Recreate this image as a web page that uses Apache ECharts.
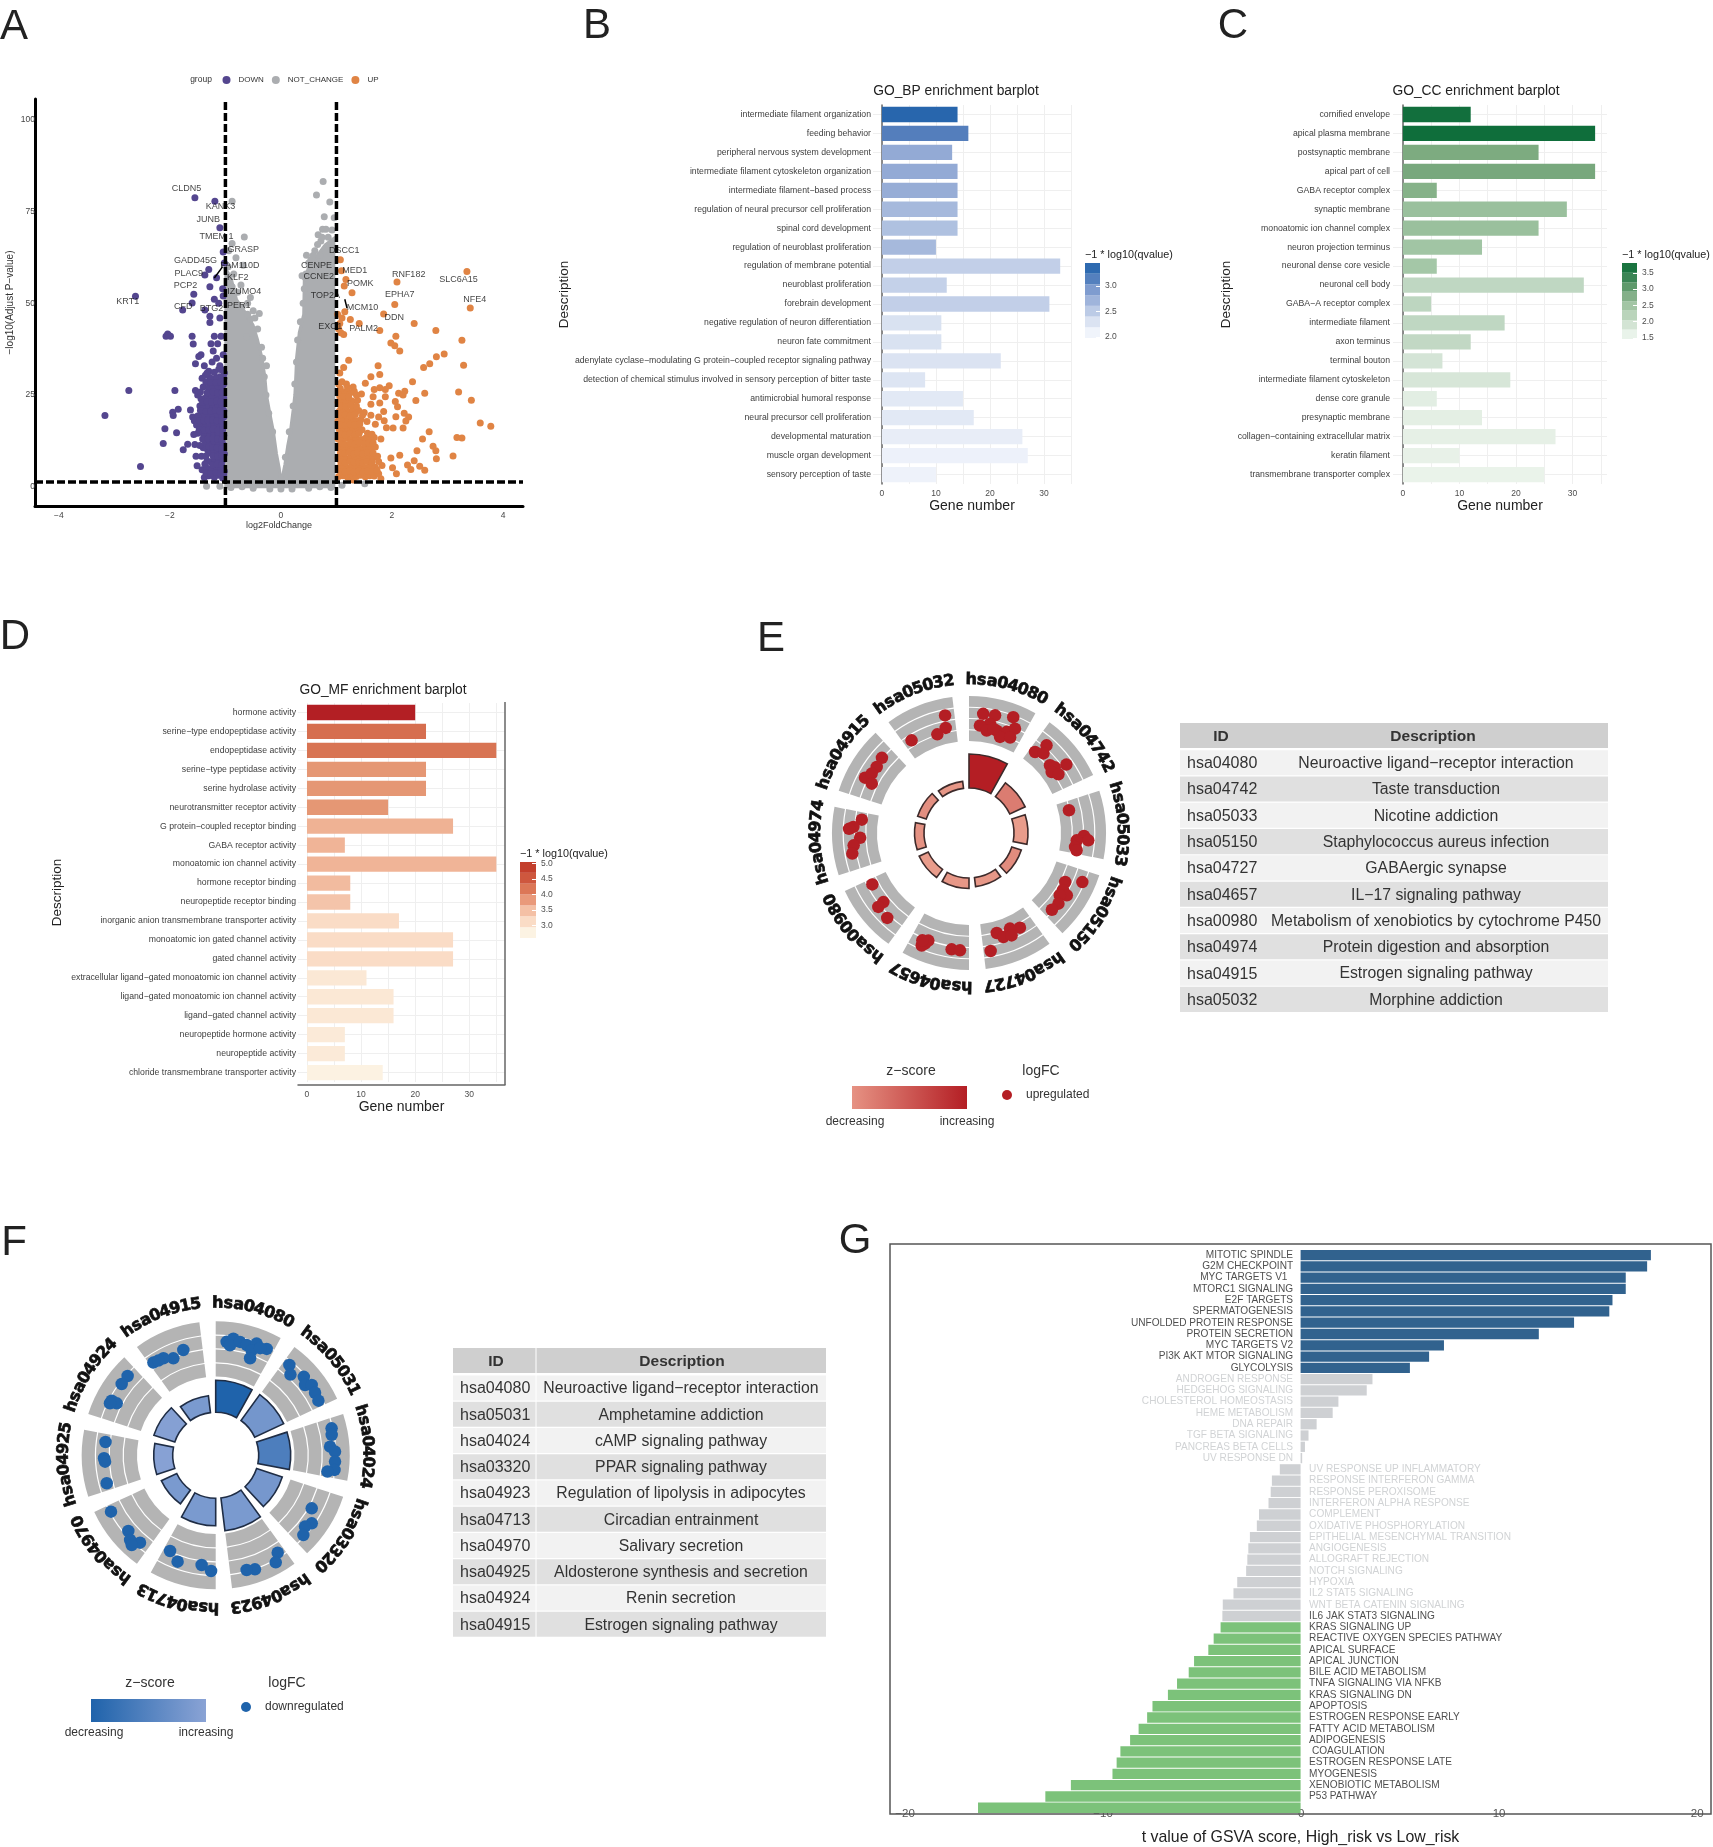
<!DOCTYPE html>
<html>
<head>
	<meta charset="utf-8">
	<title>Enrichment figure</title>
	<style>body{margin:0;background:#fff}</style>
</head>
<body>
<div id="container" style="width: 1713px;height: 1847px;"></div>
<script src="https://cdn.jsdelivr.net/npm/echarts@6/dist/echarts.min.js"></script>
<script type="text/javascript">
// ---------- A: volcano, values [log2FC, -log10 p]
var volcanoEnvelope = [[-1.02,60],[-0.9,57],[-0.8,51],[-0.62,47],[-0.5,44],[-0.42,40],[-0.34,35],[-0.29,30],[-0.26,25],[-0.2,20],[-0.135,15],[-0.08,9],[-0.03,5],[0,1.2],[0.03,3],[0.07,6],[0.12,11],[0.17,15],[0.22,21],[0.25,25],[0.27,31],[0.28,35],[0.33,42],[0.41,47],[0.42,56],[0.5,60],[0.6,62],[0.8,66],[0.98,68]];
var notChangePoints = [[-0.88,77.8],[-0.66,68.1],[-0.88,66.3],[-0.94,64.3],[-0.81,62.4],[-0.68,60.4],[-0.88,54.5],[-0.55,51.6],[-0.39,47.2],[-0.55,45.7],[-0.62,40.9],[-0.33,35],[-0.26,33],[-0.72,55],[-0.6,50],[-0.95,60],[0.76,83.2],[0.64,79.5],[0.88,77.6],[0.78,73.6],[0.96,73.3],[0.75,70.2],[0.81,70.2],[0.67,68.7],[0.72,67],[0.61,64.3],[0.46,63.1],[0.54,61.9],[0.38,57.5],[0.44,57],[0.93,65.3],[0.7,63],[0.56,59],[-1.34,0.1],[-1.1,0.1],[1.51,0.8],[1.1,0.4],[-0.9,-0.2],[0.9,-0.2],[-0.5,-0.4],[0.5,-0.4],[-0.2,-0.6],[0.2,-0.6],[0,-0.6],[0.7,0],[-0.7,0],
[-0.42,43],[-0.47,46],[-0.35,38],[-0.3,30],[-0.27,25],[-0.22,20],[-0.15,15],[-0.5,48],[-0.6,47],[-0.7,49],[-0.78,53],[-0.85,58],[0.08,8],[0.15,15],[0.22,22],[0.25,28],[0.28,34],[0.3,40],[0.35,45],[0.4,50],[0.42,54],[0.45,58],[0.5,61],[0.58,63],[0.66,66],[0.74,68],[0.85,68],[0.92,70]];
var downPoints = [[-1.55,78.8],[-1.19,77.8],[-1.1,70.6],[-2.62,51.9],[-1.3,59.2],[-1.37,57.7],[-1.16,57],[-1.28,54.5],[-1.57,52.5],[-1.6,50.1],[-1.77,48.2],[-1.37,48.2],[-1.2,51.1],[-1.12,50],[-1.28,46.5],[-1.28,44.8],[-1.1,46],[-1.04,64],[-1.02,61],[-1.05,54],[-1.04,52],[-2.04,41.6],[-2.07,41],[-1.99,41],[-2.02,41.2],[-1.6,41],[-1.58,38.9],[-1.2,41],[-1.26,39],[-1.22,37],[-1.14,39],[-1.08,41],[-1.44,36],[-1.48,35.5],[-1.54,33.5],[-1.38,33],[-1.3,31.5],[-1.24,34],[-1.16,35],[-1.1,33],[-1.04,36],[-2.74,26.2],[-1.91,26.2],[-1.54,26.2],[-3.17,19.4],[-2.53,5.5],[-1.85,21.1],[-1.95,20.3],[-1.94,19.4],[-1.63,20.9],[-1.59,19],[-2.09,15.8],[-1.88,14.7],[-2.12,11.8],[-1.76,10.1],[-1.55,11.5],[-1.68,11.6],[-1.53,8.3],[-1.43,8.3],[-1.51,5.7],[-1.33,7],
[-1.38,2.5],[-1.3,3],[-1.2,2.6],[-1.12,3.1],[-1.05,2.4],[-1.42,4.6],[-1.33,5],[-1.25,4.5],[-1.16,5.2],[-1.08,4.8],[-1.02,4.2],[-1.27,6.8],[-1.2,7.5],[-1.12,6.9],[-1.05,7.3],[-1.02,9],[-1.1,9.4],[-1.18,9.6],[-1.26,9.2],[-1.32,10],[-1.4,10.6],[-1.46,11.2],[-1.36,12],[-1.28,11.8],[-1.2,12.1],[-1.12,11.7],[-1.04,11.5],[-1.03,14],[-1.1,14.2],[-1.17,14.5],[-1.25,14.3],[-1.33,14.1],[-1.4,14.6],[-1.5,14.6],[-1.57,14.2],[-1.52,16.8],[-1.44,16.9],[-1.36,16.5],[-1.28,16.7],[-1.21,17],[-1.13,16.6],[-1.05,16.9],[-1.03,19],[-1.1,19.2],[-1.18,19.4],[-1.26,19.1],[-1.34,19.3],[-1.42,19.6],[-1.5,19.3],[-1.56,18],[-1.46,22],[-1.38,21.8],[-1.3,22],[-1.22,21.7],[-1.14,22.2],[-1.06,21.8],[-1.03,24.2],[-1.1,24.5],[-1.18,24.2],[-1.26,24.6],[-1.36,24.2],[-1.44,24],[-1.5,25],[-1.4,27.2],[-1.3,27],[-1.22,27.3],[-1.14,27],[-1.06,27.2],[-1.03,29.6],[-1.1,30],[-1.18,29.6],[-1.28,29.8],[-1.36,30.4],[-1.42,29.6],[-1.06,31.8],[-1.12,32],
[-1.35,3.8],[-1.27,3.6],[-1.17,3.9],[-1.09,3.7],[-1.03,3.2],[-1.37,6.2],[-1.23,6],[-1.15,6.2],[-1.07,6],[-1.35,8.4],[-1.22,8.4],[-1.14,8.3],[-1.06,8.5],[-1.3,10.9],[-1.23,10.7],[-1.15,10.6],[-1.07,10.4],[-1.41,13],[-1.31,13.1],[-1.22,13.2],[-1.14,13],[-1.06,12.8],[-1.47,15.6],[-1.38,15.4],[-1.3,15.5],[-1.22,15.7],[-1.13,15.4],[-1.05,15.5],[-1.47,18],[-1.39,18],[-1.31,18.1],[-1.23,18.2],[-1.15,18],[-1.07,18],[-1.45,20.8],[-1.35,20.5],[-1.26,20.6],[-1.18,20.8],[-1.1,20.6],[-1.03,20.7],[-1.41,23],[-1.33,23.2],[-1.25,23],[-1.16,23.3],[-1.08,23.1],[-1.45,25.8],[-1.33,25.6],[-1.22,25.8],[-1.14,25.6],[-1.06,25.8],[-1.35,28.5],[-1.26,28.4],[-1.17,28.4],[-1.09,28.6],[-1.03,28],[-1.33,31],[-1.2,31.2],[-1.02,31]];
var upPoints = [[1.07,61.9],[1.09,58.9],[1.17,56.5],[1.14,54.7],[1.28,52.9],[2.09,55.8],[3.35,58.7],[3.41,48.7],[2.05,49.7],[1.85,47.1],[2.4,44.5],[2.79,42.6],[1.41,44.5],[1.25,45.6],[1.15,47.7],[1.1,46],[1.06,44.5],[1.04,43],[1.08,42],[1.13,41.5],[1.02,47],[1.78,42.6],[2.07,41],[1.98,39.2],[2.05,38.4],[2.14,37],[3.26,39.9],[2.94,36.2],[2.8,35.4],[2.68,33.5],[2.57,32.5],[3.29,33.1],[1.22,34.5],[1.13,32.5],[1.06,31],[1.75,33],[1.78,30.6],[1.62,30],[1.52,28.2],[2.37,28.6],[2.59,25.5],[3.2,25.8],[3.43,23.6],[2.43,23.5],[3.59,17.4],[3.78,16.5],[3.17,13.4],[3.26,13.3],[2.67,15],[2.55,13],[2.45,9.8],[2.74,11],[2.79,9.8],[2.8,7.6],[3.1,8.4],[2.2,16],[2.4,7.1],[2.28,5.9],[2.34,4.7],[2.5,5.6],[2.59,4.5],[2.14,8.6],[1.98,7.8],[2.01,5.2],[2.08,3.5],[1.8,2.2],[1.3,1.8],
[2.02,16],[1.9,16.1],[2.07,19.1],[2.1,21.8],[2.06,23.2],[2.22,20],[2.3,19],[2.25,17.9],[2.12,25.5],[2.2,25],[2.23,26],[1.95,27.5],[1.88,26.5],[1.88,24.5],[1.78,27],[1.68,26.5],[1.66,24.5],[1.62,22.5],[1.78,22.8],[1.85,20.5],[1.76,19],[1.86,18],[1.7,17],[1.62,19.5],[1.55,17.8],
[1.04,2.8],[1.12,3],[1.2,2.6],[1.28,3.2],[1.36,2.8],[1.44,3.1],[1.52,2.7],[1.6,3],[1.68,2.9],[1.76,3.5],[1.04,5.2],[1.12,5.5],[1.2,5.1],[1.28,5.6],[1.36,5.2],[1.44,5.5],[1.52,5.2],[1.6,5.6],[1.7,5.3],[1.82,5.8],[1.03,7.8],[1.1,8],[1.18,7.6],[1.26,8.1],[1.34,7.8],[1.42,8],[1.5,7.7],[1.58,8.2],[1.66,7.9],[1.74,8.3],[1.05,10.4],[1.13,10.2],[1.22,10.6],[1.3,10.3],[1.38,10.7],[1.46,10.3],[1.54,10.6],[1.62,10.4],[1.7,10.8],[1.03,13],[1.11,12.8],[1.19,13.2],[1.27,12.9],[1.35,13.3],[1.44,12.9],[1.52,13.2],[1.6,13],[1.68,13.4],[1.8,13],[1.05,15.6],[1.13,15.4],[1.21,15.8],[1.3,15.5],[1.38,15.9],[1.46,15.5],[1.03,18],[1.11,18.2],[1.2,18],[1.28,18.4],[1.36,18],[1.44,18.3],[1.05,20.6],[1.13,20.8],[1.22,20.5],[1.3,21],[1.4,20.8],[1.5,20.2],[1.03,23],[1.1,23.4],[1.18,23],[1.28,23.4],[1.38,23.6],[1.45,25.3],[1.08,25.6],[1.16,25.8],[1.25,25.6],[1.32,26],[1.04,28],[1.1,28.6],[1.18,28],[1.3,27.2],
[1.08,4.1],[1.16,4],[1.24,4.3],[1.32,4],[1.4,4.3],[1.48,4],[1.56,4.2],[1.64,4.1],[1.73,4.5],[1.08,6.7],[1.16,6.5],[1.24,6.9],[1.32,6.6],[1.4,6.8],[1.47,6.5],[1.55,6.9],[1.64,6.7],[1.76,6.9],[1.07,9.2],[1.15,9.1],[1.23,9.4],[1.31,9],[1.39,9.3],[1.47,9],[1.56,9.3],[1.66,9.2],[1.08,11.8],[1.16,11.5],[1.25,11.9],[1.33,11.6],[1.41,12],[1.5,11.7],[1.58,11.9],[1.66,11.9],[1.08,14.4],[1.16,14.1],[1.24,14.5],[1.33,14.2],[1.41,14.6],[1.56,14.6],[1.64,14.3],[1.08,16.9],[1.16,16.7],[1.25,17],[1.33,16.8],[1.42,17.1],[1.08,19.4],[1.16,19.6],[1.25,19.3],[1.34,19.7],[1.47,19.5],[1.08,22],[1.17,21.8],[1.26,22.2],[1.36,22],[1.06,24.5],[1.14,24.6],[1.22,24.4],[1.36,25],[1.07,26.8],[1.2,27]];
var geneNames = ['CLDN5','KANK3','JUNB','TMEM 1','GRASP','GADD45G','FAM110D','PLAC9','KLF2','PCP2','IZUMO4','KRT1','CFD','BTG2','PER1','DSCC1','CENPE','MED1','CCNE2','POMK','RNF182','SLC6A15','TOP2A','EPHA7','NFE4','MCM10','DDN','EXO1','PALM2'];
var genePlaces = [[-1.70,81.2],[-1.09,76.3],[-1.31,72.9],[-1.16,68.1],[-0.68,64.8],[-1.54,61.7],[-0.74,60.2],[-1.66,58.2],[-0.78,56.9],[-1.72,54.8],[-0.66,53.1],[-2.76,50.5],[-1.76,49],[-1.25,48.5],[-0.76,49.4],[1.14,64.3],[0.64,60.2],[1.33,58.9],[0.68,57.3],[1.43,55.3],[2.3,57.8],[3.2,56.5],[0.8,52.1],[2.14,52.3],[3.49,51],[1.47,48.8],[2.04,46],[0.89,43.6],[1.49,43.1]];

// ---------- B / C / D: GO barplots
var bpNames = ['intermediate filament organization','feeding behavior','peripheral nervous system development','intermediate filament cytoskeleton organization','intermediate filament\u2212based process','regulation of neural precursor cell proliferation','spinal cord development','regulation of neuroblast proliferation','regulation of membrane potential','neuroblast proliferation','forebrain development','negative regulation of neuron differentiation','neuron fate commitment','adenylate cyclase\u2212modulating G protein\u2212coupled receptor signaling pathway','detection of chemical stimulus involved in sensory perception of bitter taste','antimicrobial humoral response','neural precursor cell proliferation','developmental maturation','muscle organ development','sensory perception of taste'];
var bpCounts = [14,16,13,14,14,14,14,10,33,12,31,11,11,22,8,15,17,26,27,10];
var bpQ = [3.42,3.15,2.7,2.7,2.68,2.6,2.55,2.6,2.42,2.4,2.42,2.22,2.22,2.2,2.18,2.13,2.13,2.08,2.03,2.02];
var ccNames = ['cornified envelope','apical plasma membrane','postsynaptic membrane','apical part of cell','GABA receptor complex','synaptic membrane','monoatomic ion channel complex','neuron projection terminus','neuronal dense core vesicle','neuronal cell body','GABA\u2212A receptor complex','intermediate filament','axon terminus','terminal bouton','intermediate filament cytoskeleton','dense core granule','presynaptic membrane','collagen\u2212containing extracellular matrix','keratin filament','transmembrane transporter complex'];
var ccCounts = [12,34,24,34,6,29,24,14,6,32,5,18,12,7,19,6,14,27,10,25];
var ccQ = [3.72,3.75,2.65,2.7,2.55,2.35,2.35,2.28,2.25,2.0,2.02,2.0,1.98,1.78,1.75,1.6,1.58,1.55,1.53,1.5];
var mfNames = ['hormone activity','serine\u2212type endopeptidase activity','endopeptidase activity','serine\u2212type peptidase activity','serine hydrolase activity','neurotransmitter receptor activity','G protein\u2212coupled receptor binding','GABA receptor activity','monoatomic ion channel activity','hormone receptor binding','neuropeptide receptor binding','inorganic anion transmembrane transporter activity','monoatomic ion gated channel activity','gated channel activity','extracellular ligand\u2212gated monoatomic ion channel activity','ligand\u2212gated monoatomic ion channel activity','ligand\u2212gated channel activity','neuropeptide hormone activity','neuropeptide activity','chloride transmembrane transporter activity'];
var mfCounts = [20,22,35,22,22,15,27,7,35,8,8,17,27,27,11,16,16,7,7,14];
var mfQ = [5.0,4.15,4.1,3.75,3.75,3.75,3.45,3.42,3.42,3.35,3.25,3.0,3.0,3.0,2.8,2.8,2.8,2.75,2.75,2.62];

// ---------- E / F: circles, dots are [radial position, angle]
var upIds = ['hsa04080','hsa04742','hsa05033','hsa05150','hsa04727','hsa04657','hsa00980','hsa04974','hsa04915','hsa05032'];
var upDescriptions = ['Neuroactive ligand\u2212receptor interaction','Taste transduction','Nicotine addiction','Staphylococcus aureus infection','GABAergic synapse','IL\u221217 signaling pathway','Metabolism of xenobiotics by cytochrome P450','Protein digestion and absorption','Estrogen signaling pathway','Morphine addiction'];
var upCounts = [79,62,59,55,54,55.5,55,54.5,54,52];
var upZ = [1,0.42,0.22,0.32,0.25,0.25,0.22,0.28,0.3,0.25];
var upDots = [[120,6.8],[120.5,12.5],[124,20.9],[111,10.9],[108,5.8],[104,9.8],[106,15.1],[108,20.5],[114,23.8],[101,17.9],[104,23.3],[107,13.1],
[104.5,39.2],[117,41.5],[109,43.1],[105.6,50.1],[108,52.5],[102.7,53.6],[107,56.7],[119,54.9],
[102.5,77.2],[115,91.5],[108,93.9],[119.5,93.5],[107,97.5],[109,99.1],
[123.5,113.4],[108,117],[110,121.3],[116,122.5],[110,124.4],[114,128.3],[113,132.8],
[107.5,151.7],[104,156.8],[103.8,164.5],[109.5,161.7],[110.9,157.4],[120,169.6],
[119,201.7],[122,202.8],[115,200.7],[117,203.5],[117.6,188.5],[117.7,184.4],
[109.5,242],[110,231.1],[117,230.8],[117.9,223.9],
[108,277.1],[115.8,273],[120,272],[109,267.5],[116,263.9],[118.5,260],
[115,310.8],[113.5,305.6],[117.8,298],[114,301.4],[109,296.9],
[120,348.5],[107.6,347.5],[103.6,342.2],[109,328.2]];
var downIds = ['hsa04080','hsa05031','hsa04024','hsa03320','hsa04923','hsa04713','hsa04970','hsa04925','hsa04924','hsa04915'];
var downDescriptions = ['Neuroactive ligand\u2212receptor interaction','Amphetamine addiction','cAMP signaling pathway','PPAR signaling pathway','Regulation of lipolysis in adipocytes','Circadian entrainment','Salivary secretion','Aldosterone synthesis and secretion','Renin secretion','Estrogen signaling pathway'];
var downCounts = [75,75,75,70,76,70.5,60,62,65,60];
var downZ = [-1,-0.35,-0.65,-0.33,-0.3,-0.3,-0.3,-0.2,-0.22,-0.3];
var downDots = [[114,5.5],[118,8.6],[111,7.4],[116,12.1],[114.6,15.7],[119,20.1],[111,18.9],[118,25.6],[103,19.5],[116,22.5],
[116.6,39.2],[110,42.8],[118,48.3],[113.7,51.8],[119,53.8],[117.4,57.8],[116.3,62],
[119,76.9],[117.8,80],[114.7,85.7],[119.4,88.2],[119.5,93],[119.7,97],[112.9,98.3],
[109.7,118.9],[117.7,125.3],[114.3,128.6],[118.5,132.3],
[115.4,147.5],[122.7,150.7],[120.6,161],[118.8,164.9],
[106,205.5],[113,199.7],[110.6,187.3],[115.8,182.3],
[118.9,241.7],[115.6,229.1],[115.6,220.9],[120.4,225.3],[122.9,223.1],
[111,276.9],[111.7,268.5],[110.8,266.7],[112.5,255.6],
[118.5,312],[118,307.2],[117.5,297.7],[111.8,297.7],[117.8,296.2],
[110.2,342.9],[105.8,336.4],[110.2,331.7],[111.7,326.1],[110.7,328.8]];

// ---------- G: GSVA bars
var gsvaUpNames = ['MITOTIC SPINDLE','G2M CHECKPOINT','MYC TARGETS V1  ','MTORC1 SIGNALING','E2F TARGETS','SPERMATOGENESIS','UNFOLDED PROTEIN RESPONSE','PROTEIN SECRETION','MYC TARGETS V2','PI3K AKT MTOR SIGNALING','GLYCOLYSIS'];
var gsvaUpValues = [17.69,17.5,16.42,16.42,15.75,15.59,13.81,12.03,7.24,6.49,5.52];
var gsvaNsPosNames = ['ANDROGEN RESPONSE','HEDGEHOG SIGNALING','CHOLESTEROL HOMEOSTASIS','HEME METABOLISM','DNA REPAIR','TGF BETA SIGNALING','PANCREAS BETA CELLS','UV RESPONSE DN'];
var gsvaNsPosValues = [3.63,3.34,1.91,1.62,0.81,0.4,0.22,0.08];
var gsvaNsNegNames = ['UV RESPONSE UP INFLAMMATORY','RESPONSE INTERFERON GAMMA','RESPONSE PEROXISOME','INTERFERON ALPHA RESPONSE','COMPLEMENT','OXIDATIVE PHOSPHORYLATION','EPITHELIAL MESENCHYMAL TRANSITION','ANGIOGENESIS','ALLOGRAFT REJECTION','NOTCH SIGNALING','HYPOXIA','IL2 STAT5 SIGNALING','WNT BETA CATENIN SIGNALING','IL6 JAK STAT3 SIGNALING'];
var gsvaNsNegValues = [-1.05,-1.45,-1.51,-1.62,-2.1,-2.21,-2.56,-2.64,-2.69,-2.75,-3.2,-3.39,-3.93,-3.95];
var gsvaDownNames = ['KRAS SIGNALING UP','REACTIVE OXYGEN SPECIES PATHWAY','APICAL SURFACE','APICAL JUNCTION','BILE ACID METABOLISM','TNFA SIGNALING VIA NFKB','KRAS SIGNALING DN','APOPTOSIS','ESTROGEN RESPONSE EARLY','FATTY ACID METABOLISM','ADIPOGENESIS',' COAGULATION','ESTROGEN RESPONSE LATE','MYOGENESIS','XENOBIOTIC METABOLISM','P53 PATHWAY',''];
var gsvaDownValues = [-4.04,-4.39,-4.66,-5.38,-5.65,-6.24,-6.7,-7.48,-7.75,-8.18,-8.61,-9.1,-9.29,-9.5,-11.6,-12.89,-16.29];

var FONT = '"Liberation Sans", Arial, sans-serif';
var myChart = echarts.init(document.getElementById('container'));
var grids = [], xAxes = [], yAxes = [], series = [], visualMaps = [], titles = [], polars = [], angleAxes = [], radiusAxes = [], elements = [];

function minus(v) { return String(v).replace('-', '\u2212'); }

function text(str, x, y, size, color, align, rotation, weight) {
    var el = { type: 'text', x: x, y: y, z: 10, style: { text: str, fill: color || '#333', fontSize: size, fontFamily: FONT, fontWeight: weight || 'normal', align: align || 'center', verticalAlign: 'middle' } };
    if (rotation) el.rotation = rotation;
    elements.push(el);
}

// one binned colour bar: own grid, own value axis
function colorBar(box, edges, colors, ticks) {
    var g = grids.length;
    grids.push({ left: box[0], top: box[1], width: box[2], height: box[3] });
    xAxes.push({ gridIndex: g, type: 'category', data: ['bin'], show: false });
    yAxes.push({
        gridIndex: g, type: 'value', position: 'right', min: edges[0], max: edges[edges.length - 1], z: 5,
        splitLine: { show: false }, axisLine: { show: false },
        axisTick: { show: true, inside: true, length: 4, lineStyle: { color: '#fff' }, customValues: ticks },
        axisLabel: { customValues: ticks, fontSize: 8.5, color: '#4d4d4d', margin: 5, formatter: function (v) { return v.toFixed(1); } }
    });
    colors.forEach(function (c, i) {
        series.push({
            type: 'bar', xAxisIndex: g, yAxisIndex: g, stack: 'bins' + g, barWidth: '100%', silent: true,
            itemStyle: { color: c },
            data: [i === 0 ? edges[1] : edges[i + 1] - edges[i]]
        });
    });
}

function barPanel(p) {
    var g = grids.length;
    grids.push({ left: p.left, top: p.top, width: p.width, height: p.height });
    xAxes.push({
        gridIndex: g, type: 'value', min: p.xMin, max: p.xMax, offset: p.xOffset || 0,
        name: 'Gene number', nameLocation: 'middle', nameGap: p.nameGap || 14, nameTextStyle: { fontSize: 14, color: '#222' },
        axisLine: { show: !!p.boxed, onZero: false, lineStyle: { color: '#666', width: 1.5 } },
        axisTick: { show: false, customValues: [0, 5, 10, 15, 20, 25, 30, 35] },
        axisLabel: { customValues: [0, 10, 20, 30], fontSize: 8.5, color: '#4d4d4d', margin: 5 },
        splitLine: { show: true, lineStyle: { color: '#efefef', width: 1 } }
    });
    yAxes.push({
        gridIndex: g, type: 'category', inverse: true, data: p.names,
        name: 'Description', nameLocation: 'middle', nameGap: p.descGap, nameRotate: 90, nameTextStyle: { fontSize: 13.5, color: '#222' },
        axisLine: { show: !p.boxed, lineStyle: { color: '#666', width: 1.5 } },
        axisTick: { show: false },
        axisLabel: { interval: 0, fontSize: 8.7, color: '#3d3d3d', margin: p.labelMargin },
        splitLine: { show: true, alignWithLabel: true, lineStyle: { color: '#efefef', width: 1 } }
    });
    var idx = series.length;
    series.push({
        type: 'bar', xAxisIndex: g, yAxisIndex: g, barWidth: 15.3, silent: true,
        encode: { x: 0, y: 1 },
        data: p.counts.map(function (c, i) { return [c, i, p.q[i]]; })
    });
    visualMaps.push({ show: false, seriesIndex: idx, dimension: 2, min: p.qMin, max: p.qMax, inRange: { color: p.ramp } });
    titles.push({ text: p.title, left: p.titleX, top: p.titleY, textAlign: 'center', textStyle: { fontSize: 13.8, fontWeight: 'normal', color: '#222', fontFamily: FONT } });
    text('\u22121 * log10(qvalue)', p.cbTitle[0], p.cbTitle[1], 10.8, '#222', 'left');
    colorBar(p.cbBox, p.cbEdges, p.cbColors, p.cbTicks);
    if (p.boxed) {
        elements.push({ type: 'line', z: 10, shape: { x1: p.left + p.width, y1: p.top - 1, x2: p.left + p.width, y2: p.top + p.height + 3 }, style: { stroke: '#666', lineWidth: 1.5 } });
    }
}

// circle panel E / F on one polar system, radius unit is one pixel
function sectorItem(params, api) {
    var cx = params.coordSys.cx, cy = params.coordSys.cy;
    var r0 = api.coord([api.value(0), 90])[0] - cx;
    var r1 = api.coord([api.value(1), 90])[0] - cx;
    var a0 = (api.value(2) - 90) * Math.PI / 180, a1 = (api.value(3) - 90) * Math.PI / 180;
    return {
        type: 'sector',
        shape: { cx: cx, cy: cy, r0: r0, r: r1, startAngle: a0, endAngle: a1, clockwise: true },
        style: { fill: api.visual('color'), stroke: params.seriesName === 'bars' ? STROKES[params.seriesIndex] : null, lineWidth: 1.6 }
    };
}
var STROKES = {};

function circlePanel(p) {
    var pi = polars.length;
    polars.push({ center: p.center, radius: 170 });
    angleAxes.push({ polarIndex: pi, min: 0, max: 360, startAngle: 90, clockwise: true, show: false, type: 'value' });
    radiusAxes.push({ polarIndex: pi, min: 0, max: 170, show: false, type: 'value' });
    var bands = [], bars = [], chars = [];
    p.ids.forEach(function (id, i) {
        var start = 36 * i, end = start + 29;
        for (var b = 0; b < 4; b++) {
            bands.push([p.tracks[b] + (b ? 0.6 : 0), p.tracks[b + 1] - (b < 3 ? 0.6 : 0), start, end]);
        }
        bars.push([p.inner, p.counts[i], start, end, p.z[i]]);
        id.split('').forEach(function (ch, j) {
            chars.push([p.labelR, start + 0.8 + j * 3.95, ch]);
        });
    });
    series.push({
        type: 'custom', coordinateSystem: 'polar', polarIndex: pi, name: 'tracks', silent: true,
        encode: { radius: 0, angle: 2 }, itemStyle: { color: '#b4b4b4' }, renderItem: sectorItem, data: bands
    });
    STROKES[series.length] = p.stroke;
    series.push({
        type: 'custom', coordinateSystem: 'polar', polarIndex: pi, name: 'bars', silent: true,
        encode: { radius: 1, angle: 2 }, renderItem: sectorItem, data: bars
    });
    visualMaps.push({ show: false, seriesIndex: series.length - 1, dimension: 4, min: p.zMin, max: p.zMax, inRange: { color: p.zRamp } });
    series.push({
        type: 'scatter', coordinateSystem: 'polar', polarIndex: pi, symbolSize: 12.5, silent: true,
        itemStyle: { color: p.dotColor, opacity: 1 }, data: p.dots
    });
    series.push({
        type: 'custom', coordinateSystem: 'polar', polarIndex: pi, silent: true,
        encode: { radius: 0, angle: 1 },
        renderItem: function (params, api) {
            var pt = api.coord([api.value(0), api.value(1)]);
            return {
                type: 'text', x: pt[0], y: pt[1], rotation: -api.value(1) * Math.PI / 180,
                style: { text: chars[params.dataIndex][2], fill: '#111', stroke: '#111', lineWidth: 0.7, font: 'bold 16px "DejaVu Sans"', align: 'center', verticalAlign: 'middle' }
            };
        },
        data: chars
    });
    // table
    var t = p.table;
    elements.push({ type: 'rect', z: 1, shape: { x: t.x0, y: t.headTop, width: t.x1 - t.x0, height: t.headH }, style: { fill: '#cfcfcf' } });
    if (t.sep) elements.push({ type: 'line', z: 2, shape: { x1: t.sep, y1: t.headTop, x2: t.sep, y2: t.first + 9.5 * t.step }, style: { stroke: '#fff', lineWidth: 1 } });
    text('ID', t.idHead, t.headTop + t.headH / 2 + 1, 15.5, '#333', 'center', 0, 'bold');
    text('Description', t.descHead, t.headTop + t.headH / 2 + 1, 15.5, '#333', 'center', 0, 'bold');
    p.ids.forEach(function (id, i) {
        var y = t.first + i * t.step;
        elements.push({ type: 'rect', z: 1, shape: { x: t.x0, y: y - t.step / 2 + 0.6, width: t.x1 - t.x0, height: t.step - 1.2 }, style: { fill: i % 2 ? '#e0e0e0' : '#f2f2f2' } });
        text(id, t.idX, y + 1, 16, '#333', 'left');
        text(p.descriptions[i], t.descX, y + 1, 15.8, '#333');
    });
    // legend
    var L = p.legend;
    text('z\u2212score', L.zX, L.titleY, 14, '#333');
    text('logFC', L.fcX, L.titleY, 14, '#333');
    elements.push({ type: 'rect', z: 5, shape: { x: L.rect[0], y: L.rect[1], width: L.rect[2], height: L.rect[3] },
        style: { fill: new echarts.graphic.LinearGradient(0, 0, 1, 0, [{ offset: 0, color: L.from }, { offset: 1, color: L.to }]) } });
    elements.push({ type: 'circle', z: 5, shape: { cx: L.dot[0], cy: L.dot[1], r: 5 }, style: { fill: p.dotColor } });
    text(L.word, L.dot[0] + 19, L.dot[1], 12, '#333', 'left');
    text('decreasing', L.decX, L.wordY, 12, '#333');
    text('increasing', L.incX, L.wordY, 12, '#333');
}

// ---- A
grids.push({ left: 35, top: 99, width: 488, height: 407 });
xAxes.push({
    gridIndex: 0, type: 'value', min: -4.43, max: 4.36, name: 'log2FoldChange', nameLocation: 'middle', nameGap: 15, nameTextStyle: { fontSize: 9, color: '#333' },
    axisLine: { onZero: false, lineStyle: { color: '#000', width: 3 } }, axisTick: { show: false, customValues: [-4, -2, 0, 2, 4] },
    axisLabel: { customValues: [-4, -2, 0, 2, 4], fontSize: 8.5, color: '#444', margin: 5, formatter: minus }, splitLine: { show: false }
});
yAxes.push({
    gridIndex: 0, type: 'value', min: -5.26, max: 105.7, name: '\u2212log10(Adjust P\u2212value)', nameLocation: 'middle', nameGap: 20, nameTextStyle: { fontSize: 10, color: '#333' },
    axisLine: { onZero: false, lineStyle: { color: '#000', width: 3 } }, axisTick: { show: false, customValues: [0, 25, 50, 75, 100] },
    axisLabel: { customValues: [0, 25, 50, 75, 100], fontSize: 8.5, color: '#444', margin: 0 }, splitLine: { show: false }
});
series.push({ type: 'line', name: 'NOT_CHANGE', xAxisIndex: 0, yAxisIndex: 0, data: volcanoEnvelope, showSymbol: false, silent: true, z: 2,
    lineStyle: { color: '#abadb0', width: 3 }, itemStyle: { color: '#abadb0' }, areaStyle: { color: '#abadb0', opacity: 1, origin: -0.4 } });
series.push({ type: 'scatter', name: 'NOT_CHANGE', xAxisIndex: 0, yAxisIndex: 0, data: notChangePoints, symbolSize: 7, silent: true, z: 2, itemStyle: { color: '#abadb0', opacity: 1 } });
series.push({ type: 'scatter', name: 'DOWN', xAxisIndex: 0, yAxisIndex: 0, data: downPoints, symbolSize: 7, silent: true, z: 3, itemStyle: { color: '#54468f', opacity: 1 } });
series.push({ type: 'scatter', name: 'UP', xAxisIndex: 0, yAxisIndex: 0, data: upPoints, symbolSize: 7, silent: true, z: 3, itemStyle: { color: '#e08444', opacity: 1 } });
series.push({
    type: 'scatter', xAxisIndex: 0, yAxisIndex: 0, symbolSize: 1, silent: true, z: 4, itemStyle: { color: 'transparent' },
    label: { show: true, position: 'inside', fontSize: 9, color: '#111', formatter: function (d) { return geneNames[d.dataIndex]; } },
    labelLayout: { hideOverlap: false }, data: genePlaces
});
series.push({ type: 'line', xAxisIndex: 0, yAxisIndex: 0, z: 5, silent: true, showSymbol: false, lineStyle: { color: '#000', width: 1.5 }, data: [[-1.2, 56.9], [-1.05, 60], null, [1.15, 51.1], [1.19, 48.7]], connectNulls: false });
[[[-1, -5.26], [-1, 105.7]], [[1, -5.26], [1, 105.7]], [[-4.43, 1.3], [4.36, 1.3]]].forEach(function (seg) {
    series.push({ type: 'line', xAxisIndex: 0, yAxisIndex: 0, z: 6, silent: true, showSymbol: false, data: seg, lineStyle: { color: '#000', width: 3.5, type: [8, 3] } });
});
text('group', 201, 80, 8.5, '#333');

// ---- B, C, D
barPanel({
    names: bpNames, counts: bpCounts, q: bpQ, title: 'GO_BP enrichment barplot', titleX: 951, titleY: 79.5,
    left: 873, top: 105, width: 198, height: 379, xMin: -1.65, xMax: 35, descGap: 298, labelMargin: 2,
    qMin: 2, qMax: 3.5, ramp: ['#f0f4fb', '#d6dff0', '#b8c8e4', '#8aa3d1', '#6a8bc4', '#4575b6', '#1a5fa9'],
    cbTitle: [1085, 255], cbBox: [1085, 263, 15, 75], cbEdges: [1.98, 2.19, 2.4, 2.61, 2.82, 3.03, 3.24, 3.45],
    cbColors: ['#f0f4fb', '#dbe3f2', '#bccbe6', '#9fb4db', '#7f9ccf', '#5480be', '#2e6ab0'], cbTicks: [2, 2.5, 3]
});
barPanel({
    names: ccNames, counts: ccCounts, q: ccQ, title: 'GO_CC enrichment barplot', titleX: 1471, titleY: 79.5,
    left: 1393, top: 105, width: 214, height: 379, xMin: -1.74, xMax: 36.1, descGap: 158, labelMargin: 3,
    qMin: 1.5, qMax: 3.75, ramp: ['#eaf3ea', '#cddfcf', '#a4c7a7', '#7fad82', '#5b9667', '#337f4f', '#0f6e3b'],
    cbTitle: [1622, 255], cbBox: [1622, 263, 15, 76], cbEdges: [1.47, 1.76, 2.05, 2.34, 2.63, 2.92, 3.21, 3.5, 3.8],
    cbColors: ['#e9f3ea', '#d3e4d4', '#bad4bb', '#a2c5a4', '#84b089', '#5f9a6c', '#3b8555', '#1a7440'], cbTicks: [1.5, 2, 2.5, 3, 3.5]
});
barPanel({
    names: mfNames, counts: mfCounts, q: mfQ, title: 'GO_MF enrichment barplot', titleX: 378, titleY: 678, boxed: true, xOffset: 3, nameGap: 13,
    left: 298, top: 703, width: 207, height: 379, xMin: -1.66, xMax: 36.6, descGap: 234, labelMargin: 2,
    qMin: 2.6, qMax: 5, ramp: ['#fcf3e3', '#fadcc6', '#f1b699', '#e3936f', '#d4694a', '#c64533', '#b31f24'],
    cbTitle: [520, 854], cbBox: [520, 862, 16, 76], cbEdges: [2.6, 2.95, 3.3, 3.65, 4.0, 4.35, 4.7, 5.05],
    cbColors: ['#fcf3e3', '#fadcc6', '#f4c0a5', '#e9997a', '#dc7757', '#ce573e', '#c33f2c'], cbTicks: [3, 3.5, 4, 4.5, 5]
});

// ---- E, F
circlePanel({
    center: [969, 833], ids: upIds, descriptions: upDescriptions, counts: upCounts, z: upZ, dots: upDots, inner: 45, labelR: 153,
    tracks: [92, 103.25, 114.5, 125.75, 137], stroke: '#3d2a2a', dotColor: '#b41e24', zMin: 0.2, zMax: 1, zRamp: ['#ea9f8e', '#b41e24'],
    table: { x0: 1180, x1: 1608, headTop: 723, headH: 25, first: 762.7, step: 26.3, idX: 1187, descX: 1436, idHead: 1221, descHead: 1433 },
    legend: { zX: 911, fcX: 1041, titleY: 1071, rect: [852, 1086, 115, 23], from: '#e69283', to: '#b41e24', dot: [1007, 1095], word: 'upregulated', decX: 855, incX: 967, wordY: 1122 }
});
circlePanel({
    center: [215.7, 1455.3], ids: downIds, descriptions: downDescriptions, counts: downCounts, z: downZ, dots: downDots, inner: 43, labelR: 152,
    tracks: [78.7, 92.5, 106.5, 120.2, 134], stroke: '#1f2d45', dotColor: '#1f63ab', zMin: -1, zMax: -0.18, zRamp: ['#1f63ab', '#8aa3d5'],
    table: { x0: 453, x1: 826, headTop: 1348, headH: 25, first: 1388, step: 26.25, idX: 460, descX: 681, idHead: 496, descHead: 682, sep: 536 },
    legend: { zX: 150, fcX: 287, titleY: 1683, rect: [91, 1699, 115, 23], from: '#1f63ab', to: '#8aa3d5', dot: [246, 1707], word: 'downregulated', decX: 94, incX: 206, wordY: 1733 }
});

// ---- G
var gsvaNames = gsvaUpNames.concat(gsvaNsPosNames, gsvaNsNegNames, gsvaDownNames);
var gsvaValues = gsvaUpValues.concat(gsvaNsPosValues, gsvaNsNegValues, gsvaDownValues);
var gsvaColors = [];
gsvaUpValues.forEach(function () { gsvaColors.push('#31628e'); });
gsvaNsPosValues.concat(gsvaNsNegValues).forEach(function () { gsvaColors.push('#ced0d3'); });
gsvaDownValues.forEach(function () { gsvaColors.push('#7cc27a'); });

var gb = grids.length;
grids.push({ left: 890, top: 1244, width: 821, height: 576, show: true, borderColor: '#555', borderWidth: 1.5 });
xAxes.push({
    gridIndex: gb, type: 'value', min: -20.76, max: 20.7,
    name: 't value of GSVA score, High_risk vs Low_risk', nameLocation: 'middle', nameGap: 16, nameTextStyle: { fontSize: 15.9, color: '#222' },
    axisLine: { show: false }, axisTick: { show: false, customValues: [-20, -10, 0, 10, 20] }, splitLine: { show: false },
    axisLabel: { customValues: [-20, -10, 0, 10, 20], fontSize: 11.5, color: '#555', margin: -6, formatter: minus }
});
yAxes.push({ gridIndex: gb, type: 'value', min: 0, max: 1, show: false });
var gs = grids.length;
grids.push({ left: 889.5, top: 1249.4, width: 821, height: 564 });
xAxes.push({ gridIndex: gs, type: 'value', min: -20.76, max: 20.7, show: false });
yAxes.push({ gridIndex: gs, type: 'category', inverse: true, data: gsvaNames, show: false });
series.push({
    type: 'bar', xAxisIndex: gs, yAxisIndex: gs, barWidth: 10.3, silent: true,
    data: gsvaValues.map(function (v, i) { return { value: v, itemStyle: { color: gsvaColors[i] } }; })
});
series.push({
    type: 'scatter', xAxisIndex: gs, yAxisIndex: gs, symbolSize: 1, silent: true, itemStyle: { color: 'transparent' },
    labelLayout: { hideOverlap: false },
    data: gsvaNames.map(function (n, i) {
        var grey = i >= 11 && i < 32;
        return {
            value: [0, i],
            label: { show: true, formatter: n || ' ', position: gsvaValues[i] > 0 ? 'left' : 'right', distance: gsvaValues[i] > 0 ? 7 : 8, fontSize: 10.1, offset: [0, 1], color: grey ? '#c6c8ca' : '#222' }
        };
    })
});

// panel letters
[['A', 14, 27], ['B', 597, 26], ['C', 1233, 26], ['D', 15, 637], ['E', 771, 639], ['F', 14, 1243], ['G', 855, 1241]].forEach(function (l) {
    text(l[0], l[1], l[2], 42, '#222');
});

var option = {
    animation: false,
    backgroundColor: '#fff',
    textStyle: { fontFamily: FONT },
    title: titles,
    legend: {
        left: 217.5, top: 71, icon: 'circle', itemWidth: 8, itemHeight: 8, itemGap: 8, selectedMode: false,
        data: ['DOWN', 'NOT_CHANGE', 'UP'], textStyle: { fontSize: 8, color: '#333', padding: [0, 0, 0, 3] }
    },
    grid: grids, xAxis: xAxes, yAxis: yAxes,
    polar: polars, angleAxis: angleAxes, radiusAxis: radiusAxes,
    visualMap: visualMaps,
    series: series,
    graphic: { elements: elements }
};
myChart.setOption(option);
</script>
</body>
</html>
